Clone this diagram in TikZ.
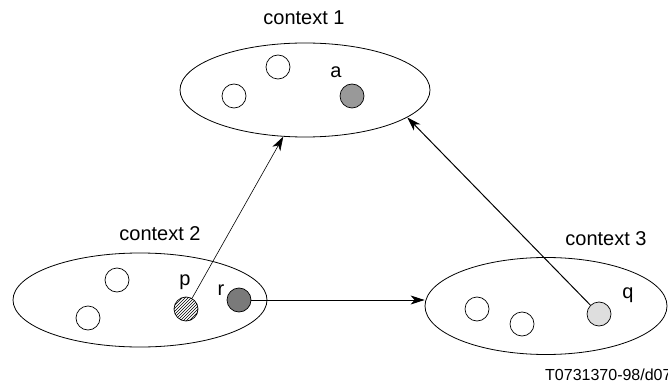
\documentclass[tikz,border=0pt]{standalone}
\usepackage{fontspec}
\setmainfont{Liberation Sans}
\usetikzlibrary{shapes.geometric,patterns,arrows.meta}

\tikzset{
  ctx/.style={draw, ellipse, line width=0.8pt, inner sep=0pt},
  obj/.style={draw, circle, line width=0.7pt, minimum size=24pt, inner sep=0pt},
  lbl/.style={inner sep=0pt, anchor=base, font=\fontsize{20}{24}\selectfont},
  link/.style={-{Stealth[length=14pt,width=9pt,inset=4pt]}}
}

\begin{document}
\begin{tikzpicture}[x=1pt,y=-1pt]
  \useasboundingbox (0,0) rectangle (668,387);

  %draw contexts
  \node[ctx, minimum width=250pt, minimum height=94pt] (ctx1) at (305,90) {};
  \node[ctx, minimum width=254pt, minimum height=94pt] (ctx2) at (140,300) {};
  \node[ctx, minimum width=242pt, minimum height=97pt] (ctx3) at (546,306) {};

  %draw context names
  \node[lbl] (name1) at (304,25) {context 1};
  \node[lbl] (name2) at (160,240) {context 2};
  \node[lbl] (name3) at (606,245) {context 3};

  %draw empty objects
  \foreach \x/\y [count=\i] in {278/67, 234/96, 117/280, 88/318, 477/309, 522/324}
     \node[obj] (e\i) at (\x,\y) {};

  %draw marked objects
  \node[obj, fill=black!40] (a) at (352,96) {};
  \node[obj, pattern=north east lines] (p) at (186,309) {};
  \node[obj, fill=black!52] (r) at (239,300) {};
  \node[obj, fill=black!13] (q) at (599,314) {};

  \node[lbl] (la) at (336,78) {a};
  \node[lbl] (lp) at (185,285) {p};
  \node[lbl] (lr) at (221,295) {r};
  \node[lbl] (lq) at (628,298) {q};

  %draw links
  \draw[link, line width=0.6pt] (p) -- (ctx1.245);
  \draw[link, line width=1pt] (q) -- (ctx1.345);
  \draw[link, line width=0.8pt] (r) -- (r -| ctx3.west);

  \node[inner sep=0pt, anchor=base west, font=\fontsize{16}{19}\selectfont] (ref) at (545,380) {T0731370-98/d07};
\end{tikzpicture}
\end{document}
